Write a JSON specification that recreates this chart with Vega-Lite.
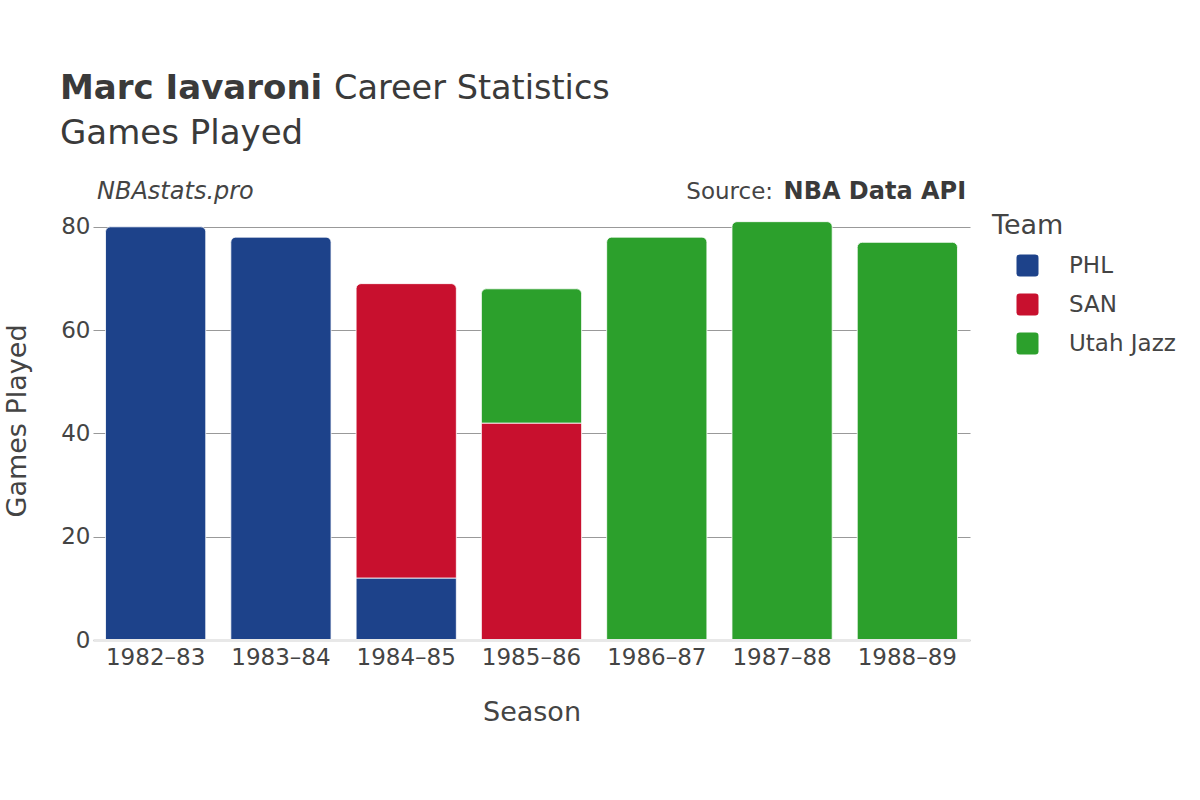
{
  "$schema": "https://vega.github.io/schema/vega-lite/v6.json",
  "width": 877,
  "height": 439,
  "autosize": {"type": "none"},
  "padding": {"left": 93, "top": 201, "right": 230, "bottom": 160},
  "background": "white",
  "config": {
    "font": "DejaVu Sans",
    "view": {"stroke": null}
  },
  "datasets": {
    "games": [
      {"season": "1982–83", "team": "PHL", "games": 80},
      {"season": "1983–84", "team": "PHL", "games": 78},
      {"season": "1984–85", "team": "PHL", "games": 12},
      {"season": "1984–85", "team": "SAN", "games": 57},
      {"season": "1985–86", "team": "SAN", "games": 42},
      {"season": "1985–86", "team": "Utah Jazz", "games": 26},
      {"season": "1986–87", "team": "Utah Jazz", "games": 78},
      {"season": "1987–88", "team": "Utah Jazz", "games": 81},
      {"season": "1988–89", "team": "Utah Jazz", "games": 77}
    ],
    "notes": [
      {"text": "NBAstats.pro", "level": 86.7, "kind": "site"},
      {"text": "Source:", "level": 86.7, "kind": "source"},
      {"text": "NBA Data API", "level": 86.7, "kind": "api"},
      {"text": "Marc Iavaroni", "level": 106.6, "kind": "name"},
      {"text": "Career Statistics", "level": 106.6, "kind": "title"},
      {"text": "Games Played", "level": 98.0, "kind": "subtitle"}
    ]
  },
  "layer": [
    {
      "data": {"name": "games"},
      "transform": [
        {"stack": "games", "groupby": ["season"], "sort": [{"field": "team", "order": "ascending"}], "as": ["g0", "g1"]},
        {"joinaggregate": [{"op": "max", "field": "g1", "as": "gmax"}], "groupby": ["season"]},
        {"filter": "datum.g1 < datum.gmax"}
      ],
      "mark": {"type": "bar", "stroke": "#ffffff", "strokeWidth": 1, "strokeOpacity": 0.8},
      "encoding": {
        "x": {
          "field": "season", "type": "nominal",
          "scale": {"paddingInner": 0.2, "paddingOuter": 0.1},
          "sort": ["1982–83", "1983–84", "1984–85", "1985–86", "1986–87", "1987–88", "1988–89"],
          "axis": {
            "title": "Season", "labelAngle": 0, "labelFontSize": 23, "labelColor": "#444",
            "titleFontSize": 27, "titleColor": "#444", "titleFontWeight": "normal",
            "ticks": false, "labelPadding": 6, "titlePadding": 30,
            "domainColor": "#e8e8e8", "domainWidth": 3, "zindex": 1
          }
        },
        "y": {
          "field": "g1", "type": "quantitative",
          "scale": {"domain": [0, 85], "nice": false},
          "axis": {
            "title": "Games Played", "values": [0, 20, 40, 60, 80],
            "labelFontSize": 23, "labelColor": "#444", "labelPadding": 3,
            "titleFontSize": 27, "titleColor": "#444", "titleFontWeight": "normal", "titlePadding": 29,
            "ticks": false, "domain": false, "gridColor": "#999", "gridWidth": 1
          }
        },
        "y2": {"field": "g0"},
        "color": {
          "field": "team", "type": "nominal",
          "scale": {"domain": ["PHL", "SAN", "Utah Jazz"], "range": ["#1d428a", "#c8102e", "#2ca02c"]},
          "legend": {
            "title": "Team", "orient": "none", "legendX": 899, "legendY": 12,
            "titleFontSize": 27, "titleColor": "#444", "titleFontWeight": "normal", "titlePadding": 14,
            "labelFontSize": 23, "labelColor": "#444", "labelOffset": 30, "symbolOffset": 24,
            "symbolType": "M-0.7,-1L0.7,-1Q1,-1 1,-0.7L1,0.7Q1,1 0.7,1L-0.7,1Q-1,1 -1,0.7L-1,-0.7Q-1,-1 -0.7,-1Z",
            "symbolSize": 484, "symbolStrokeWidth": 0, "symbolOpacity": 1, "rowPadding": 15
          }
        }
      }
    },
    {
      "data": {"name": "games"},
      "transform": [
        {"stack": "games", "groupby": ["season"], "sort": [{"field": "team", "order": "ascending"}], "as": ["g0", "g1"]},
        {"joinaggregate": [{"op": "max", "field": "g1", "as": "gmax"}], "groupby": ["season"]},
        {"filter": "datum.g1 === datum.gmax"}
      ],
      "mark": {"type": "bar", "stroke": "#ffffff", "strokeWidth": 1, "strokeOpacity": 0.8, "cornerRadiusTopLeft": 5, "cornerRadiusTopRight": 5},
      "encoding": {
        "x": {"field": "season", "type": "nominal", "sort": ["1982–83", "1983–84", "1984–85", "1985–86", "1986–87", "1987–88", "1988–89"]},
        "y": {"field": "g1", "type": "quantitative"},
        "y2": {"field": "g0"},
        "color": {"field": "team", "type": "nominal"}
      }
    },
    {
      "data": {"name": "notes"},
      "transform": [{"filter": "datum.kind === 'site'"}],
      "mark": {"type": "text", "align": "left", "baseline": "middle", "fontSize": 24, "fontStyle": "italic", "color": "#444"},
      "encoding": {
        "x": {"datum": "1982–83", "bandPosition": -0.085},
        "y": {"field": "level", "type": "quantitative"},
        "text": {"field": "text"}
      }
    },
    {
      "data": {"name": "notes"},
      "transform": [{"filter": "datum.kind === 'source'"}],
      "mark": {"type": "text", "align": "right", "baseline": "middle", "fontSize": 23, "color": "#444"},
      "encoding": {
        "x": {"datum": "1987–88", "bandPosition": 0.41},
        "y": {"field": "level", "type": "quantitative"},
        "text": {"field": "text"}
      }
    },
    {
      "data": {"name": "notes"},
      "transform": [{"filter": "datum.kind === 'api'"}],
      "mark": {"type": "text", "align": "right", "baseline": "middle", "fontSize": 24, "fontWeight": "bold", "color": "#3a3a3a"},
      "encoding": {
        "x": {"datum": "1988–89", "bandPosition": 1.086},
        "y": {"field": "level", "type": "quantitative"},
        "text": {"field": "text"}
      }
    },
    {
      "data": {"name": "notes"},
      "transform": [{"filter": "datum.kind === 'name'"}],
      "mark": {"type": "text", "align": "left", "baseline": "middle", "fontSize": 34, "fontWeight": "bold", "color": "#3a3a3a"},
      "encoding": {
        "x": {"datum": "1982–83", "bandPosition": -0.454},
        "y": {"field": "level", "type": "quantitative"},
        "text": {"field": "text"}
      }
    },
    {
      "data": {"name": "notes"},
      "transform": [{"filter": "datum.kind === 'title'"}],
      "mark": {"type": "text", "align": "left", "baseline": "middle", "fontSize": 33.5, "color": "#3a3a3a"},
      "encoding": {
        "x": {"datum": "1983–84", "bandPosition": 1.03},
        "y": {"field": "level", "type": "quantitative"},
        "text": {"field": "text"}
      }
    },
    {
      "data": {"name": "notes"},
      "transform": [{"filter": "datum.kind === 'subtitle'"}],
      "mark": {"type": "text", "align": "left", "baseline": "middle", "fontSize": 34, "color": "#3a3a3a"},
      "encoding": {
        "x": {"datum": "1982–83", "bandPosition": -0.454},
        "y": {"field": "level", "type": "quantitative"},
        "text": {"field": "text"}
      }
    }
  ]
}
